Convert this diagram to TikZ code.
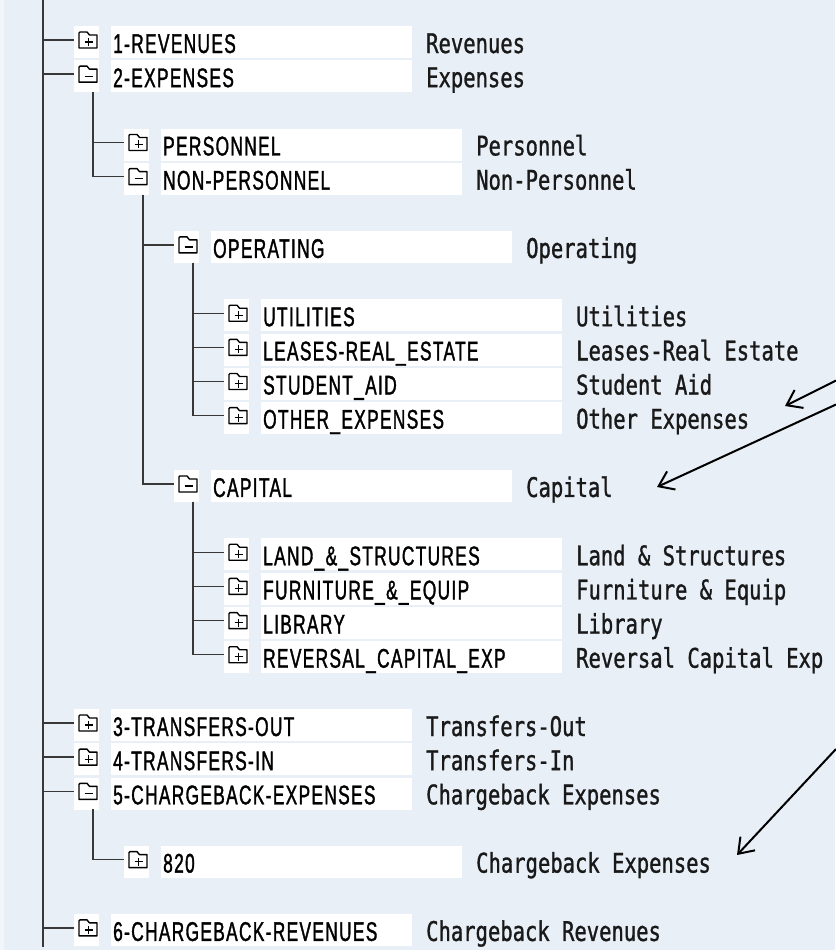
\documentclass[tikz,border=0pt]{standalone}
\usepackage{fontspec}
\usetikzlibrary{arrows.meta}
\newfontfamily\codefont[FakeStretch=0.64,LetterSpace=5,FakeBold=1.3]{Liberation Sans}
\newfontfamily\descfont[FakeStretch=0.76,FakeBold=1.1]{DejaVu Sans Mono}
\definecolor{panel}{HTML}{E8EFF7}
\definecolor{paneledge}{HTML}{F2F5FA}
\definecolor{treeline}{HTML}{383838}

\tikzset{
  iconbox/.style={fill=white, draw=none, inner sep=0pt, anchor=north west,
    minimum width=25pt, minimum height=32pt},
  codebox/.style={fill=white, draw=none, inner sep=0pt, anchor=north west,
    minimum width=301pt, minimum height=32pt},
  codetext/.style={inner sep=0pt, anchor=base west, text=black,
    font=\codefont\fontsize{27}{30}\selectfont},
  desctext/.style={inner sep=0pt, anchor=base west, text=black!90,
    font=\descfont\fontsize{27}{30}\selectfont},
  tree/.style={draw=treeline, line width=1.4pt},
  annot/.style={draw=black, line width=2pt,
    -{Straight Barb[length=14pt, width=20pt, line width=2pt]}},
  foldline/.style={draw=black, line width=1.4pt, fill=white, line join=round},
  folderbody/.pic={
    \path[foldline] (5,8) -- (5,-7) -- (6,-8) -- (13,-8) -- (15.5,-5)
      -- (23,-5) -- (23,8) -- cycle;
  },
  folderplus/.pic={
    \pic {folderbody};
    \draw[line width=1.3pt] (10.5,2) -- (18.5,2) (14.5,-2) -- (14.5,6);
  },
  folderminus/.pic={
    \pic {folderbody};
    \draw[line width=1.3pt] (10.5,2) -- (18.5,2);
  },
}

% one row of the account tree:
% #1 name, #2 depth, #3 row index, #4 plus/minus, #5 code, #6 description
\newcommand\acctrow[6]{%
  \pgfmathsetmacro\rx{50*#2}%
  \pgfmathsetmacro\ry{40+34.15*#3}%
  \node[iconbox] (#1-icon) at (74+\rx, \ry-14) {};
  \pic at (74+\rx, \ry) {folder#4};
  \node[codebox] (#1-box) at (111+\rx, \ry-14) {};
  \node[codetext] (#1) at (113+\rx, \ry+13) {#5};
  \node[desctext] (#1-desc) at (426+\rx, \ry+13) {#6};
  \coordinate (#1-in) at (74+\rx, \ry);
  \coordinate (#1-stem) at (93+\rx, \ry+18);
}

\begin{document}
\begin{tikzpicture}[x=1pt, y=-1pt]
\useasboundingbox (0,0) rectangle (835,950);
\fill[panel] (0,0) rectangle (835,950);
\fill[paneledge] (0,0) rectangle (4,950);

% rows
\acctrow{rev}{0}{0}{plus}{1-REVENUES}{Revenues}
\acctrow{exp}{0}{1}{minus}{2-EXPENSES}{Expenses}
\acctrow{pers}{1}{3}{plus}{PERSONNEL}{Personnel}
\acctrow{nonp}{1}{4}{minus}{NON-PERSONNEL}{Non-Personnel}
\acctrow{oper}{2}{6}{minus}{OPERATING}{Operating}
\acctrow{util}{3}{8}{plus}{UTILITIES}{Utilities}
\acctrow{lease}{3}{9}{plus}{LEASES-REAL\_ESTATE}{Leases-Real Estate}
\acctrow{stud}{3}{10}{plus}{STUDENT\_AID}{Student Aid}
\acctrow{other}{3}{11}{plus}{OTHER\_EXPENSES}{Other Expenses}
\acctrow{cap}{2}{13}{minus}{CAPITAL}{Capital}
\acctrow{land}{3}{15}{plus}{LAND\_\&\_STRUCTURES}{Land \& Structures}
\acctrow{furn}{3}{16}{plus}{FURNITURE\_\&\_EQUIP}{Furniture \& Equip}
\acctrow{lib}{3}{17}{plus}{LIBRARY}{Library}
\acctrow{revcap}{3}{18}{plus}{REVERSAL\_CAPITAL\_EXP}{Reversal Capital Exp}
\acctrow{tout}{0}{20}{plus}{3-TRANSFERS-OUT}{Transfers-Out}
\acctrow{tin}{0}{21}{plus}{4-TRANSFERS-IN}{Transfers-In}
\acctrow{cbexp}{0}{22}{minus}{5-CHARGEBACK-EXPENSES}{Chargeback Expenses}
\acctrow{cb820}{1}{24}{plus}{820}{Chargeback Expenses}
\acctrow{cbrev}{0}{26}{plus}{6-CHARGEBACK-REVENUES}{Chargeback Revenues}

% main trunk and top-level branches
\coordinate (trunk-top) at (43,0);
\coordinate (trunk-bot) at (43,947);
\draw[tree] (trunk-top) -- (trunk-bot);
\foreach \n in {rev,exp,tout,tin,cbexp,cbrev}
  \draw[tree] (trunk-top |- \n-in) -- (\n-in);

% nested branches
\draw[tree] (exp-stem) |- (pers-in);
\draw[tree] (exp-stem) |- (nonp-in);
\draw[tree] (nonp-stem) |- (oper-in);
\draw[tree] (nonp-stem) |- (cap-in);
\foreach \n in {util,lease,stud,other}
  \draw[tree] (oper-stem) |- (\n-in);
\foreach \n in {land,furn,lib,revcap}
  \draw[tree] (cap-stem) |- (\n-in);
\draw[tree] (cbexp-stem) |- (cb820-in);

% pointer arrows coming in from the right
\coordinate (p1-from) at (836,380.5);
\coordinate (p1-to) at (785,406);
\coordinate (p2-from) at (836,404.5);
\coordinate (p2-to) at (657,487);
\coordinate (p3-from) at (836,749);
\coordinate (p3-to) at (737,855);
\draw[annot] (p1-from) -- (p1-to);
\draw[annot] (p2-from) -- (p2-to);
\draw[annot] (p3-from) -- (p3-to);
\end{tikzpicture}
\end{document}
